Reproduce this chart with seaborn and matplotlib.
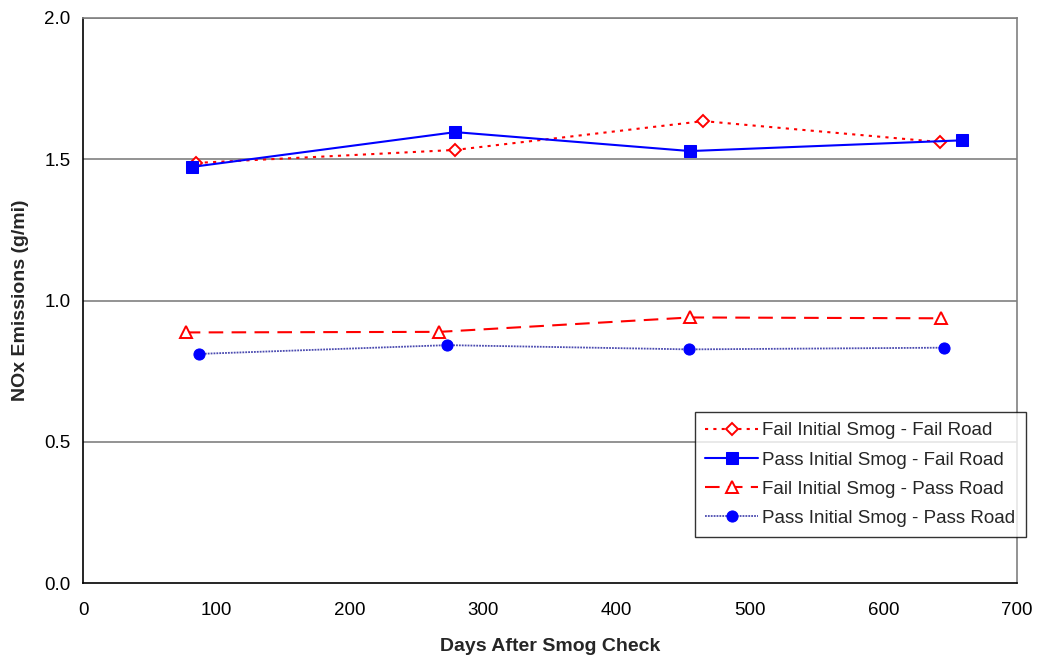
import matplotlib
matplotlib.use("Agg")
import matplotlib.pyplot as plt
import seaborn as sns
import pandas as pd

# NOx emissions by days after smog check, four inspection groups
ff_days = [85, 279, 465, 642]
ff_nox = [1.487, 1.533, 1.635, 1.561]

pf_days = [82, 279, 455, 659]
pf_nox = [1.473, 1.596, 1.529, 1.567]

fp_days = [77, 267, 455, 643]
fp_nox = [0.887, 0.889, 0.940, 0.937]

pp_days = [87, 273, 454, 645]
pp_nox = [0.811, 0.842, 0.827, 0.833]

labels = [
    "Fail Initial Smog - Fail Road",
    "Pass Initial Smog - Fail Road",
    "Fail Initial Smog - Pass Road",
    "Pass Initial Smog - Pass Road",
]

x_ticks = [0, 100, 200, 300, 400, 500, 600, 700]
y_ticks = [0.0, 0.5, 1.0, 1.5, 2.0]

sns.set_theme(style="white")
plt.rcParams["font.family"] = ["Liberation Sans", "DejaVu Sans"]

fig = plt.figure(figsize=(10.39, 6.59), dpi=100)
ax = fig.add_axes([0.0799, 0.1153, 0.8989, 0.8574])

styles = [
    dict(color="#ff0000", linestyle=(0, (1.5, 2.5)), linewidth=1.5, marker="D",
         markersize=6, markerfacecolor="white", markeredgecolor="#ff0000", markeredgewidth=1.4),
    dict(color="#0000ff", linestyle="-", linewidth=1.5, marker="s",
         markersize=8, markerfacecolor="#0000ff", markeredgecolor="#0000ff"),
    dict(color="#ff0000", linestyle=(0, (7, 4)), linewidth=1.5, marker="^",
         markersize=8, markerfacecolor="white", markeredgecolor="#ff0000", markeredgewidth=1.4),
    dict(color="#4b4bb0", linestyle=(0, (1, 0.6)), linewidth=1.3, marker="o",
         markersize=8, markerfacecolor="#0000ff", markeredgecolor="#0000ff"),
]

series = [(ff_days, ff_nox), (pf_days, pf_nox), (fp_days, fp_nox), (pp_days, pp_nox)]
for (days, nox), lab, st in zip(series, labels, styles):
    df = pd.DataFrame({"days": days, "nox": nox})
    sns.lineplot(data=df, x="days", y="nox", ax=ax, label=lab, sort=False, **st)

ax.set_xlim(0, 700)
ax.set_ylim(0, 2.0)
ax.set_xticks(x_ticks)
ax.set_yticks(y_ticks)
ax.set_xticklabels([str(v) for v in x_ticks])
ax.set_yticklabels([f"{v:.1f}" for v in y_ticks])
ax.tick_params(axis="both", direction="out", length=5, width=1, color="black",
               labelsize=13.5, labelcolor="black", pad=4)
ax.tick_params(axis="x", pad=9)

for v in [0.5, 1.0, 1.5, 2.0]:
    ax.axhline(v, color="#808080", linewidth=1.2, zorder=0)

for side in ["left", "bottom"]:
    ax.spines[side].set_color("black")
    ax.spines[side].set_linewidth(1.2)
for side in ["top", "right"]:
    ax.spines[side].set_color("#808080")
    ax.spines[side].set_linewidth(1.2)

ax.set_xlabel("Days After Smog Check", fontsize=14, fontweight="bold", labelpad=13)
ax.set_ylabel("NOx Emissions (g/mi)", fontsize=14, fontweight="bold", labelpad=11)

leg = ax.legend(loc="upper left", bbox_to_anchor=(695 / 1039, 1 - 412 / 659),
                bbox_transform=fig.transFigure, fontsize=13.5, frameon=True,
                fancybox=False, edgecolor="black", handlelength=2.8,
                borderpad=0.55, labelspacing=0.64, handletextpad=0.25,
                borderaxespad=0)
leg.get_frame().set_linewidth(1.0)

fig.savefig("out.png", dpi=100, facecolor="white")
